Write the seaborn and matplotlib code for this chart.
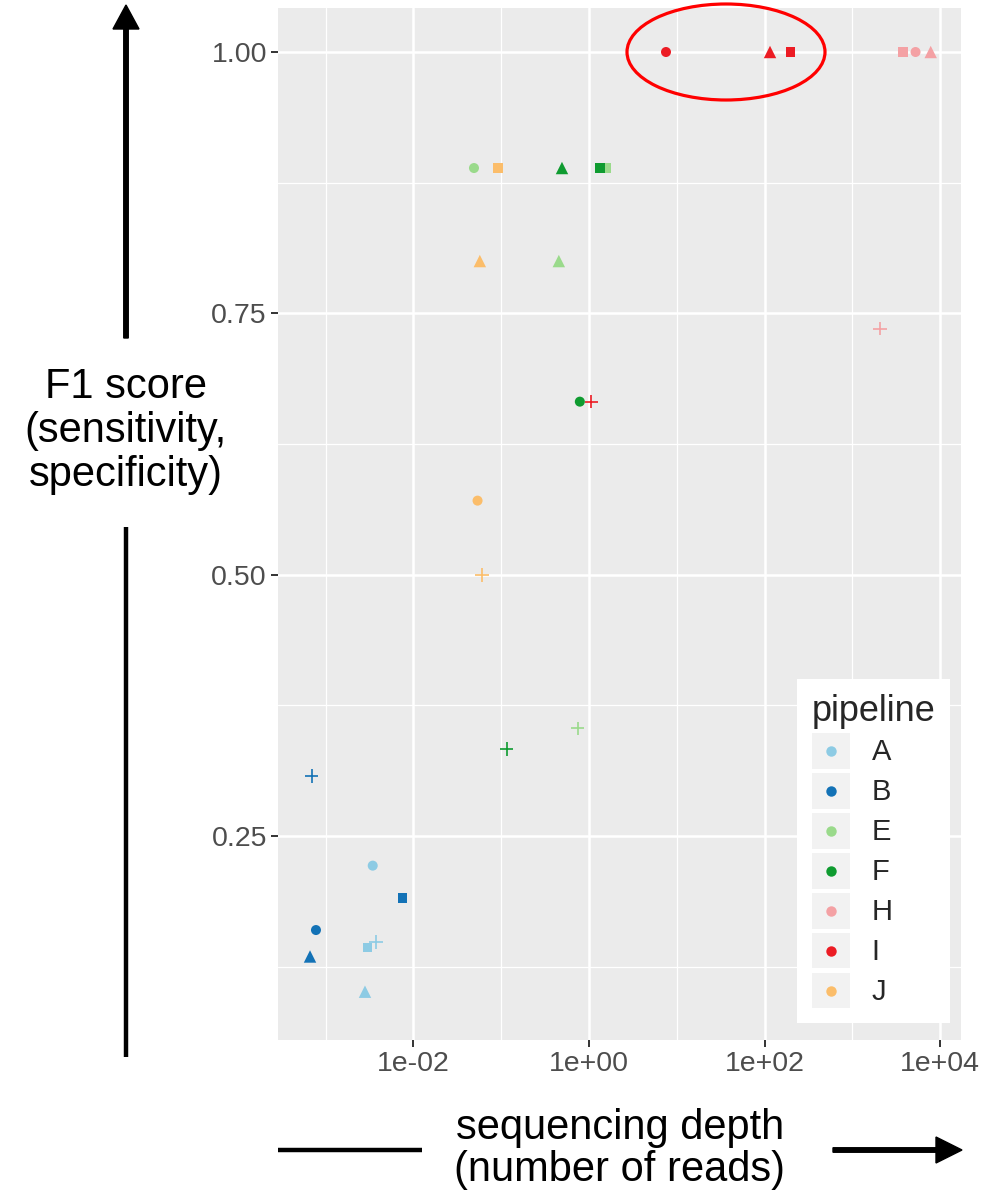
import pandas as pd
import matplotlib
matplotlib.use('Agg')
import matplotlib.pyplot as plt
import seaborn as sns
from matplotlib.patches import Ellipse, FancyArrow, Rectangle
from matplotlib.lines import Line2D
from matplotlib.legend_handler import HandlerBase
from matplotlib.transforms import IdentityTransform
from matplotlib.ticker import FixedLocator, NullFormatter

# data: per pipeline, values in shape order circle / triangle / square / cross
pipelines = ['A', 'B', 'E', 'F', 'H', 'I', 'J']
shapes = ['circle', 'triangle', 'square', 'cross']

depth_A = [0.00343, 0.00280, 0.00301, 0.00374]
depth_B = [0.000774, 0.000662, 0.00753, 0.000692]
depth_E = [0.0489, 0.453, 1.562, 0.743]
depth_F = [0.786, 0.492, 1.335, 0.1153]
depth_H = [5260, 7830, 3790, 2061]
depth_I = [7.54, 115.5, 198, 1.065]
depth_J = [0.0537, 0.0570, 0.0918, 0.0604]

f1_A = [0.2216, 0.101, 0.1431, 0.1486]
f1_B = [0.160, 0.1347, 0.1907, 0.3074]
f1_E = [0.889, 0.800, 0.889, 0.353]
f1_F = [0.6655, 0.889, 0.889, 0.333]
f1_H = [1.0, 1.0, 1.0, 0.7353]
f1_I = [1.0, 1.0, 1.0, 0.6655]
f1_J = [0.5708, 0.800, 0.889, 0.4997]

pipe_colors = ['#8DCBE4', '#1372B6', '#9ADA8B', '#0F9B30', '#F4A1A4', '#EC1C24', '#FBBD6A']

x_ticks = [1e-2, 1e0, 1e2, 1e4]
x_ticklabels = ['1e-02', '1e+00', '1e+02', '1e+04']
y_ticks = [0.25, 0.50, 0.75, 1.00]
y_ticklabels = ['0.25', '0.50', '0.75', '1.00']

# build long table
depths = [depth_A, depth_B, depth_E, depth_F, depth_H, depth_I, depth_J]
f1s = [f1_A, f1_B, f1_E, f1_F, f1_H, f1_I, f1_J]
rows = []
for p, dd, ff in zip(pipelines, depths, f1s):
    for sh, d, f in zip(shapes, dd, ff):
        rows.append({'pipeline': p, 'shape': sh, 'depth': d, 'f1': f})
df = pd.DataFrame(rows)

palette = dict(zip(pipelines, pipe_colors))

sns.set_theme(style='darkgrid')
plt.rcParams['font.family'] = ['Liberation Sans', 'DejaVu Sans']

fig = plt.figure(figsize=(9.99, 12.01), dpi=100)
ax = fig.add_axes([278/999, 1 - 1040/1201, 683/999, 1032/1201])
ax.set_facecolor('#EBEBEB')

marker_of = {'circle': 'o', 'triangle': '^', 'square': 's', 'cross': '+'}
size_of = {'circle': 52, 'triangle': 80, 'square': 45, 'cross': 95}
for sh in shapes:
    sub = df[df['shape'] == sh]
    lw = 1.2 if sh == 'cross' else 0
    sns.scatterplot(data=sub, x='depth', y='f1', hue='pipeline', palette=palette,
                    hue_order=pipelines, marker=marker_of[sh], s=size_of[sh],
                    linewidth=lw, legend=False, ax=ax, zorder=3)

ax.set_xscale('log')
ax.set_xlim(10**-3.544, 10**4.239)
ax.set_ylim(0.0548, 1.0421)
ax.xaxis.set_major_locator(FixedLocator(x_ticks))
ax.set_xticklabels(x_ticklabels)
ax.xaxis.set_minor_locator(FixedLocator([1e-3, 1e-1, 1e1, 1e3]))
ax.xaxis.set_minor_formatter(NullFormatter())
ax.yaxis.set_major_locator(FixedLocator(y_ticks))
ax.set_yticklabels(y_ticklabels)
ax.yaxis.set_minor_locator(FixedLocator([0.125, 0.375, 0.625, 0.875]))

ax.grid(which='major', color='white', linewidth=1.8)
ax.grid(which='minor', color='white', linewidth=0.9)
ax.set_axisbelow(True)
for s in ax.spines.values():
    s.set_visible(False)
ax.tick_params(which='major', length=5, width=1.4, color='#333333',
               labelcolor='#4D4D4D', labelsize=20.5, pad=3)
ax.tick_params(which='minor', length=0)
ax.tick_params(axis='x', bottom=True)
ax.tick_params(axis='y', left=True)
ax.set_xlabel('')
ax.set_ylabel('')


# legend key: grey square with the coloured dot on top (ggplot style)
class KeyHandler(HandlerBase):
    def create_artists(self, legend, orig_handle, xdescent, ydescent,
                       width, height, fontsize, trans):
        box = Rectangle((-xdescent, -ydescent), width, height,
                        facecolor='#F2F2F2', edgecolor='none', transform=trans)
        dot = Line2D([-xdescent + width / 2], [-ydescent + height / 2],
                     marker='o', linestyle='none', markersize=7.5,
                     markerfacecolor=orig_handle.get_markerfacecolor(),
                     markeredgewidth=0, transform=trans)
        return [box, dot]


handles = [Line2D([], [], marker='o', linestyle='none', markerfacecolor=c)
           for c in pipe_colors]
leg = ax.legend(handles, pipelines, title='pipeline',
                handler_map={Line2D: KeyHandler()},
                loc='lower right', bbox_to_anchor=(950/999, 1 - 1023/1201),
                bbox_transform=fig.transFigure, fontsize=21, title_fontsize=26,
                frameon=True, facecolor='white', edgecolor='none', fancybox=False,
                framealpha=1, borderpad=0.5, handlelength=1.3, handleheight=1.5,
                handletextpad=0.75, labelspacing=0.15, borderaxespad=0,
                alignment='left')

# annotations around the plot (pixel coordinates of the figure)
H = 1201
idt = IdentityTransform()
fig.add_artist(Ellipse((726, H - 52), 198, 96, transform=idt, fill=False,
                       edgecolor='#FF0000', linewidth=2.3))
fig.add_artist(FancyArrow(126, H - 338, 0, 333, width=4.5, head_width=26,
                          head_length=24, length_includes_head=True,
                          color='black', transform=idt))
fig.add_artist(Line2D([126, 126], [H - 527, H - 1057], color='black',
                      linewidth=3.2, solid_capstyle='butt', transform=idt))
fig.add_artist(Line2D([278, 422], [H - 1150, H - 1150], color='black',
                      linewidth=3.2, solid_capstyle='butt', transform=idt))
fig.add_artist(FancyArrow(833, H - 1150, 129, 0, width=4.5, head_width=26,
                          head_length=26, length_includes_head=True,
                          color='black', transform=idt))

fig.text(126/999, 1 - 431/1201, 'F1 score\n(sensitivity,\nspecificity)',
         ha='center', va='center', fontsize=30, linespacing=1.12, color='black')
fig.text(620/999, 1 - 1149/1201, 'sequencing depth\n(number of reads)',
         ha='center', va='center', fontsize=30, linespacing=1.07, color='black')

fig.savefig('out.png', dpi=100)
